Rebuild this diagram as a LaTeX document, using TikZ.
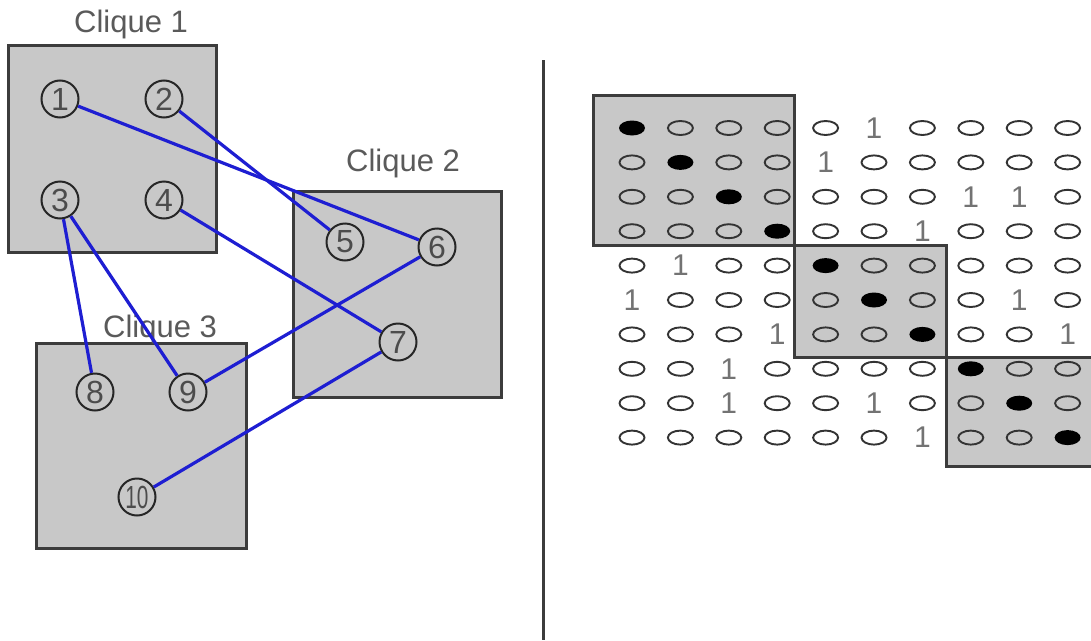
\documentclass[tikz,border=0pt]{standalone}
\usepackage{fontspec}
\setmainfont{Liberation Sans}
\usepackage{xcolor}
\usetikzlibrary{shapes.geometric}
\definecolor{boxgray}{RGB}{200,200,200}
\definecolor{edgegray}{RGB}{60,60,60}
\definecolor{textgray}{RGB}{90,90,90}
\definecolor{linkblue}{RGB}{30,30,210}
\begin{document}
\begin{tikzpicture}[x=1pt,y=-1pt,
  clique/.style={draw=edgegray,fill=boxgray,line width=3pt},
  cliquelabel/.style={text=textgray,font=\fontsize{31}{33}\selectfont},
  vtx/.style={circle,draw=black!85,line width=2pt,minimum size=37pt,inner sep=0pt,text=black!70,font=\fontsize{32}{33}\selectfont},
  link/.style={linkblue,line width=3.2pt},
  cell0/.style={ellipse,draw=black!80,line width=1.9pt,minimum width=25pt,minimum height=14pt,inner sep=0pt,node contents={}},
  cellF/.style={ellipse,fill=black,minimum width=26pt,minimum height=15pt,inner sep=0pt,node contents={}},
  cell1/.style={inner sep=0pt,text=black!55,font=\fontsize{30}{32}\selectfont,node contents={1}}]
\useasboundingbox (0,0) rectangle (1091,640);
\clip (0,0) rectangle (1091,640);
\fill [white] (0,0) rectangle (1091,640);
\draw [clique] (8,45) rectangle (216,252);
\draw [clique] (293,191) rectangle (501,397);
\draw [clique] (36,343) rectangle (246,548);
\node [cliquelabel] (lab1) at (131,24) {Clique 1};
\node [cliquelabel] (lab2) at (403,163) {Clique 2};
\node [cliquelabel] (lab3) at (160,329) {Clique 3};
\node [vtx] (n1) at (60,99) {1};
\node [vtx] (n2) at (164,99) {2};
\node [vtx] (n3) at (60,200) {3};
\node [vtx] (n4) at (164,200) {4};
\node [vtx] (n5) at (345,242) {5};
\node [vtx] (n6) at (437,247) {6};
\node [vtx] (n7) at (398,342) {7};
\node [vtx] (n8) at (95,392) {8};
\node [vtx] (n9) at (188,392) {9};
\node [vtx] (n10) at (137,497) {\scalebox{0.65}[1]{10}};
\draw [link] (n1) -- (n6);
\draw [link] (n2) -- (n5);
\draw [link] (n3) -- (n8);
\draw [link] (n3) -- (n9);
\draw [link] (n4) -- (n7);
\draw [link] (n6) -- (n9);
\draw [link] (n7) -- (n10);
\draw [edgegray,line width=3pt] (543,60) -- (543,640);
\draw [clique] (593,95) rectangle (794,245);
\draw [clique] (794,245) rectangle (946,357);
\draw [clique] (946,357) rectangle (1100,466);
\foreach \row [count=\r] in {{F,0,0,0,0,1,0,0,0,0},{0,F,0,0,1,0,0,0,0,0},{0,0,F,0,0,0,0,1,1,0},
    {0,0,0,F,0,0,1,0,0,0},{0,1,0,0,F,0,0,0,0,0},{1,0,0,0,0,F,0,0,1,0},{0,0,0,1,0,0,F,0,0,1},
    {0,0,1,0,0,0,0,F,0,0},{0,0,1,0,0,1,0,0,F,0},{0,0,0,0,0,0,1,0,0,F}}
  \foreach \v [count=\c] in \row
    \node (c\r-\c) at ({632+(\c-1)*48.4},{128+(\r-1)*34.4}) [cell\v];
\end{tikzpicture}
\end{document}
